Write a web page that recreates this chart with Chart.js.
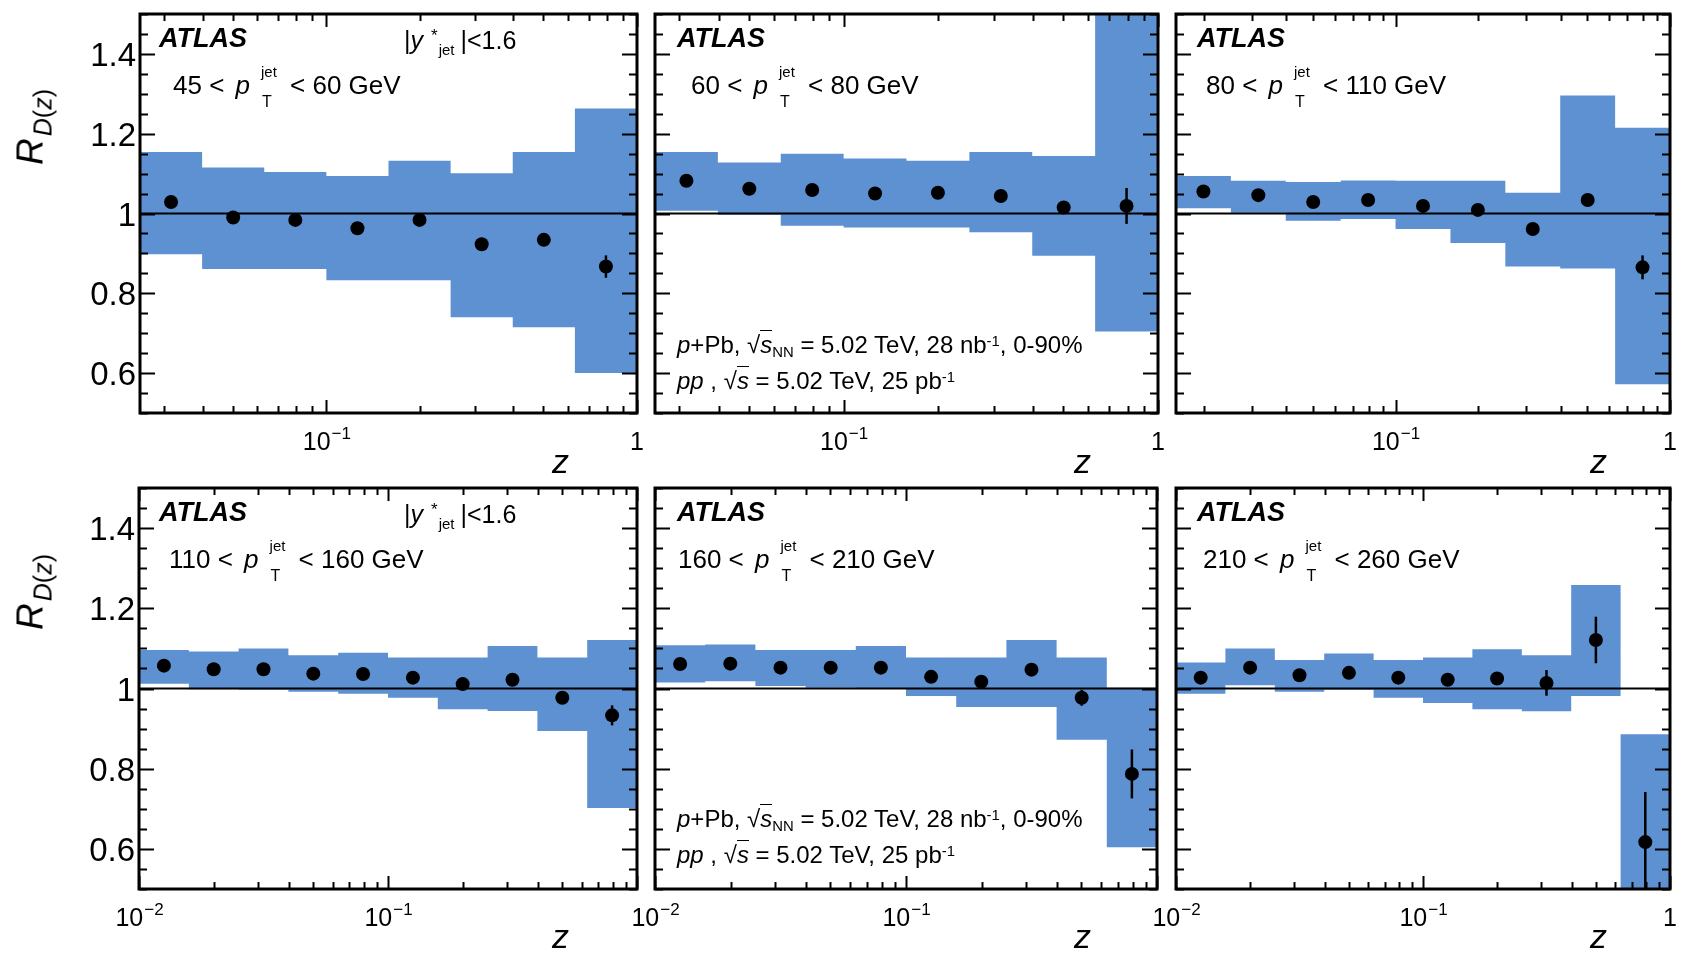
<!DOCTYPE html>
<html>
<head>
<meta charset="utf-8">
<script src="https://cdn.jsdelivr.net/npm/chart.js@4.4.1/dist/chart.umd.min.js"></script>
<style>
html,body{margin:0;padding:0;background:#fff;width:1681px;height:966px;overflow:hidden;}
#wrap{position:absolute;left:0;top:0;width:1681px;height:966px;}
#wrap canvas{position:absolute;left:0;top:0;}
.t{position:absolute;font-family:"Liberation Sans",Arial,Helvetica,sans-serif;line-height:1;white-space:nowrap;color:#000;}
.ss{display:inline-block;position:relative;width:40px;height:0;}
.ss .sp{position:absolute;left:11px;bottom:15px;font-size:15px;line-height:1;}
.ss .sb{position:absolute;left:12px;top:0px;font-size:16px;line-height:1;}
.up{position:relative;top:-0.45em;font-size:0.62em;}
.dn{position:relative;top:0.3em;font-size:0.62em;}
.ovl{border-top:1.5px solid #000;padding-top:0px;}
</style>
</head>
<body>
<div id="wrap"></div>
<script>
// ---------------- DATA ----------------
// bin edges and centres in z (log-uniform bins, 0.2 decades wide)
const zEdgesA   = [0.02512, 0.03981, 0.06310, 0.1, 0.1585, 0.2512, 0.3981, 0.6310, 1.0];
const zCentersA = [0.03162, 0.05012, 0.07943, 0.1259, 0.1995, 0.3162, 0.5012, 0.7943];
const zEdgesB   = [0.01585, 0.02512, 0.03981, 0.06310, 0.1, 0.1585, 0.2512, 0.3981, 0.6310, 1.0];
const zCentersB = [0.01995, 0.03162, 0.05012, 0.07943, 0.1259, 0.1995, 0.3162, 0.5012, 0.7943];
const zEdgesC   = [0.01, 0.01585, 0.02512, 0.03981, 0.06310, 0.1, 0.1585, 0.2512, 0.3981, 0.6310, 1.0];
const zCentersC = [0.01259, 0.01995, 0.03162, 0.05012, 0.07943, 0.1259, 0.1995, 0.3162, 0.5012, 0.7943];

// 45 < pT < 60 GeV
const rd1    = [1.029, 0.990, 0.984, 0.963, 0.984, 0.923, 0.934, 0.867];
const stat1  = [0.006, 0.006, 0.006, 0.006, 0.007, 0.008, 0.010, 0.028];
const sysHi1 = [1.154, 1.115, 1.104, 1.094, 1.132, 1.101, 1.154, 1.263];
const sysLo1 = [0.898, 0.861, 0.861, 0.833, 0.833, 0.740, 0.715, 0.600];
// 60 < pT < 80 GeV
const rd2    = [1.082, 1.062, 1.059, 1.050, 1.052, 1.044, 1.015, 1.019];
const stat2  = [0.005, 0.005, 0.005, 0.006, 0.006, 0.007, 0.010, 0.045];
const sysHi2 = [1.154, 1.128, 1.150, 1.138, 1.132, 1.154, 1.144, 1.560];
const sysLo2 = [1.007, 0.997, 0.969, 0.965, 0.965, 0.953, 0.894, 0.704];
// 80 < pT < 110 GeV
const rd3    = [1.055, 1.046, 1.029, 1.034, 1.019, 1.009, 0.961, 1.034, 0.865];
const stat3  = [0.005, 0.005, 0.005, 0.005, 0.006, 0.006, 0.008, 0.012, 0.030];
const sysHi3 = [1.094, 1.082, 1.079, 1.083, 1.082, 1.082, 1.052, 1.296, 1.215];
const sysLo3 = [1.013, 1.002, 0.982, 0.986, 0.961, 0.926, 0.867, 0.862, 0.572];
// 110 < pT < 160 GeV
const rd4    = [1.057, 1.048, 1.048, 1.037, 1.036, 1.027, 1.011, 1.022, 0.977, 0.933];
const stat4  = [0.005, 0.005, 0.005, 0.005, 0.005, 0.006, 0.006, 0.008, 0.012, 0.025];
const sysHi4 = [1.096, 1.092, 1.100, 1.083, 1.089, 1.077, 1.077, 1.106, 1.077, 1.121];
const sysLo4 = [1.012, 0.998, 0.997, 0.992, 0.987, 0.977, 0.948, 0.944, 0.894, 0.702];
// 160 < pT < 210 GeV
const rd5    = [1.061, 1.062, 1.052, 1.052, 1.052, 1.029, 1.017, 1.047, 0.977, 0.787];
const stat5  = [0.005, 0.005, 0.005, 0.005, 0.006, 0.006, 0.007, 0.010, 0.020, 0.061];
const sysHi5 = [1.108, 1.110, 1.096, 1.096, 1.106, 1.077, 1.077, 1.121, 1.077, 1.002];
const sysLo5 = [1.015, 1.018, 1.006, 1.002, 0.999, 0.981, 0.954, 0.954, 0.872, 0.604];
// 210 < pT < 260 GeV
const rd6    = [1.027, 1.052, 1.033, 1.039, 1.027, 1.022, 1.025, 1.014, 1.121, 0.617];
const stat6  = [0.006, 0.006, 0.006, 0.006, 0.007, 0.008, 0.010, 0.032, 0.058, 0.125];
const sysHi6 = [1.065, 1.100, 1.071, 1.087, 1.071, 1.077, 1.098, 1.083, 1.258, 0.886];
const sysLo6 = [0.987, 1.008, 0.992, 0.997, 0.977, 0.964, 0.948, 0.943, 0.981, 0.450];

// axis tick labels
const yTickValues = [0.6, 0.8, 1.0, 1.2, 1.4];
const yTickLabels = ['0.6', '0.8', '1', '1.2', '1.4'];
const ptLow  = ['45', '60', '80', '110', '160', '210'];
const ptHigh = ['60', '80', '110', '160', '210', '260'];

// ---------------- LAYOUT ----------------
const W = 1681, H = 966;
const BLUE = '#5d91d2';
const FONT = '"Liberation Sans", Arial, Helvetica, sans-serif';

const panels = [
  {frame:[140,14,637,413], edges:zEdgesA, centers:zCentersA, rd:rd1, err:stat1, hi:sysHi1, lo:sysLo1, xLabels:[0.1,1], yLabels:true},
  {frame:[655,14,1158,413], edges:zEdgesA, centers:zCentersA, rd:rd2, err:stat2, hi:sysHi2, lo:sysLo2, xLabels:[0.1,1], yLabels:false},
  {frame:[1176,14,1670,413], edges:zEdgesB, centers:zCentersB, rd:rd3, err:stat3, hi:sysHi3, lo:sysLo3, xLabels:[0.1,1], yLabels:false},
  {frame:[139,488,637,889], edges:zEdgesC, centers:zCentersC, rd:rd4, err:stat4, hi:sysHi4, lo:sysLo4, xLabels:[0.01,0.1], yLabels:true},
  {frame:[655,488,1157,889], edges:zEdgesC, centers:zCentersC, rd:rd5, err:stat5, hi:sysHi5, lo:sysLo5, xLabels:[0.01,0.1], yLabels:false},
  {frame:[1176,488,1670,889], edges:zEdgesC, centers:zCentersC, rd:rd6, err:stat6, hi:sysHi6, lo:sysLo6, xLabels:[0.01,0.1,1], yLabels:false},
];

function frameTicksPlugin(p){
  return {
    id:'rootFrame',
    afterDatasetsDraw(chart){
      // statistical error bars
      const ctx = chart.ctx, xs = chart.scales.x, ys = chart.scales.y, a = chart.chartArea;
      ctx.save();
      ctx.beginPath(); ctx.rect(a.left, a.top, a.right-a.left, a.bottom-a.top); ctx.clip();
      ctx.strokeStyle = '#000'; ctx.lineWidth = 2.5;
      p.centers.forEach((z,i)=>{
        const px = xs.getPixelForValue(z);
        ctx.beginPath();
        ctx.moveTo(px, ys.getPixelForValue(p.rd[i]-p.err[i]));
        ctx.lineTo(px, ys.getPixelForValue(p.rd[i]+p.err[i]));
        ctx.stroke();
      });
      ctx.restore();
    },
    afterDraw(chart){
      const ctx = chart.ctx, xs = chart.scales.x, ys = chart.scales.y;
      const {left, right, top, bottom} = chart.chartArea;
      ctx.save();
      ctx.strokeStyle = '#000';
      ctx.lineWidth = 2;
      // y ticks (both sides, inward)
      for (let k = 0; k <= 20; k++){
        const v = 0.5 + k*0.05;
        const major = Math.abs(v*5 - Math.round(v*5)) < 1e-6;
        const len = major ? 15 : 8;
        const py = Math.round(ys.getPixelForValue(v)) + 0.5;
        ctx.beginPath();
        ctx.moveTo(left, py); ctx.lineTo(left+len, py);
        ctx.moveTo(right, py); ctx.lineTo(right-len, py);
        ctx.stroke();
      }
      // x ticks (top and bottom, inward)
      const xmin = xs.min;
      for (let e = -2; e <= 0; e++){
        for (let m = 1; m <= 9; m++){
          const v = m*Math.pow(10, e);
          if (v < xmin*0.999 || v > 1.0001) continue;
          const len = (m === 1) ? 13 : 7;
          const px = Math.round(xs.getPixelForValue(v)) + 0.5;
          ctx.beginPath();
          ctx.moveTo(px, bottom); ctx.lineTo(px, bottom-len);
          ctx.moveTo(px, top); ctx.lineTo(px, top+len);
          ctx.stroke();
        }
      }
      // frame
      ctx.lineWidth = 3;
      ctx.strokeRect(left, top, right-left, bottom-top);
      // y tick labels
      ctx.fillStyle = '#000';
      if (p.yLabels){
        ctx.font = '33px ' + FONT;
        ctx.textAlign = 'right';
        ctx.textBaseline = 'alphabetic';
        yTickValues.forEach((v,i)=>{
          const py = ys.getPixelForValue(v);
          ctx.fillText(yTickLabels[i], left-4, py+12);
        });
      }
      // x tick labels
      ctx.textBaseline = 'alphabetic';
      ctx.textAlign = 'left';
      p.xLabels.forEach(v=>{
        const px = xs.getPixelForValue(v);
        const base = bottom + 37;
        if (v === 1){
          ctx.font = '25px ' + FONT;
          const w = ctx.measureText('1').width;
          ctx.fillText('1', px - w/2, base);
        } else {
          const ex = '\u2212' + Math.round(-Math.log10(v));
          ctx.font = '25px ' + FONT;
          const w1 = ctx.measureText('10').width;
          ctx.font = '17px ' + FONT;
          const w2 = ctx.measureText(ex).width;
          const x0 = px - (w1+w2)/2;
          ctx.font = '25px ' + FONT;
          ctx.fillText('10', x0, base);
          ctx.font = '17px ' + FONT;
          ctx.fillText(ex, x0 + w1 + 1, base - 11);
        }
      });
      ctx.restore();
    }
  };
}

function buildChart(p){
  const cv = document.createElement('canvas');
  cv.width = W; cv.height = H;
  cv.style.width = W+'px'; cv.style.height = H+'px';
  document.getElementById('wrap').appendChild(cv);
  const [L,T,R,B] = p.frame;
  const xmin = p.edges[0];
  const hiSteps = p.edges.map((x,i)=>({x:x, y:p.hi[Math.min(i, p.hi.length-1)]}));
  const loSteps = p.edges.map((x,i)=>({x:x, y:p.lo[Math.min(i, p.lo.length-1)]}));
  const pts = p.centers.map((x,i)=>({x:x, y:p.rd[i]}));
  new Chart(cv, {
    type:'line',
    data:{datasets:[
      {label:'p+Pb / pp', data:pts, showLine:false, pointRadius:7, pointHoverRadius:7,
       pointBackgroundColor:'#000', pointBorderColor:'#000', pointBorderWidth:0, borderColor:'#000'},
      {label:'unity', data:[{x:xmin,y:1},{x:1,y:1}], borderColor:'#000', borderWidth:2, pointRadius:0, fill:false},
      {label:'sys up', data:hiSteps, stepped:true, borderColor:'rgba(0,0,0,0)', borderWidth:0,
       backgroundColor:BLUE, fill:'+1', pointRadius:0},
      {label:'sys down', data:loSteps, stepped:true, borderColor:'rgba(0,0,0,0)', borderWidth:0,
       backgroundColor:BLUE, fill:false, pointRadius:0}
    ]},
    options:{
      responsive:false, animation:false, events:[],
      devicePixelRatio:1,
      layout:{padding:{left:L, top:T, right:W-R, bottom:H-B}},
      plugins:{legend:{display:false}, tooltip:{enabled:false}},
      scales:{
        x:{type:'logarithmic', min:xmin, max:1, display:false},
        y:{type:'linear', min:0.5, max:1.5, display:false}
      }
    },
    plugins:[frameTicksPlugin(p)]
  });
}
panels.forEach(buildChart);

// ---------------- TEXT ----------------
function addText(html, x, baseline, fs, style){
  const d = document.createElement('div');
  d.className = 't';
  d.style.left = x+'px';
  d.style.top = (baseline - 0.8465*fs)+'px';
  d.style.fontSize = fs+'px';
  if (style) d.style.cssText += style;
  d.innerHTML = html;
  document.body.appendChild(d);
  return d;
}
const atlasX = [159, 677, 1197, 159, 677, 1197];
const ptX    = [173, 691, 1206, 169, 678, 1203];
panels.forEach((p,i)=>{
  const T = p.frame[1];
  addText('ATLAS', atlasX[i], T+34, 27, 'font-weight:bold;font-style:italic;');
  addText(ptLow[i]+' &lt; <i style="margin-left:4px">p</i><span class="ss"><span class="sp">jet</span><span class="sb">T</span></span>&lt; '+ptHigh[i]+' GeV',
          ptX[i], T+80, 26);
});
// rapidity selection
[14, 488].forEach(T=>{
  addText('|<i>y</i><span style="margin-left:8px;position:relative;top:-8px;font-size:17px">*</span><span style="position:relative;top:6px;font-size:15px;margin-left:1px">jet</span><span style="margin-left:6px">|&lt;1.6</span>', 404, T+35, 25);
});
// collision systems
[14, 488].forEach(T=>{
  addText('<i>p</i>+Pb, √<i class="ovl">s</i><span class="dn">NN</span> = 5.02 TeV, 28 nb<span class="up">-1</span>, 0-90%', 677, T+339, 24);
  addText('<i>pp</i> , √<i class="ovl">s</i> = 5.02 TeV, 25 pb<span class="up">-1</span>', 677, T+375, 24);
});
// axis titles
[[561,473],[1083,473],[1599,473],[561,948],[1083,948],[1599,948]].forEach(([cx,b])=>{
  addText('<i>z</i>', cx-9, b, 34);
});
[127, 592].forEach(cy=>{
  const d = document.createElement('div');
  d.className = 't';
  d.style.fontSize = '37px';
  d.style.left = '30px';
  d.style.top = cy+'px';
  d.style.transform = 'translate(-50%,-50%) rotate(-90deg)';
  d.innerHTML = '<i>R</i><span style="font-size:25px;position:relative;top:9px;margin-left:2px"><i>D</i>(<i>z</i>)</span>';
  document.body.appendChild(d);
});
</script>
</body>
</html>
